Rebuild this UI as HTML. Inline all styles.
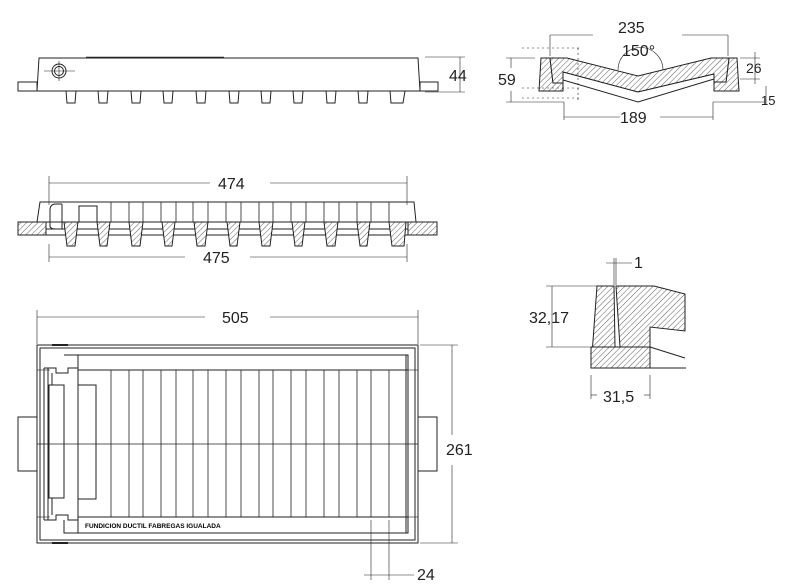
<!DOCTYPE html>
<html><head><meta charset="utf-8"><style>
html,body{margin:0;padding:0;background:#fff}
svg{display:block}
text{font-family:"Liberation Sans",sans-serif;fill:#222}
</style></head><body>
<svg width="792" height="586" viewBox="0 0 792 586" xmlns="http://www.w3.org/2000/svg">
<defs>
<pattern id="h" width="4" height="4" patternUnits="userSpaceOnUse" patternTransform="rotate(45)">
<rect width="4" height="4" fill="#fff"/><line x1="0" y1="0" x2="0" y2="4" stroke="#333" stroke-width="0.8"/>
</pattern>
</defs>
<g fill="none" stroke="#222" stroke-width="1">
<!-- top side view -->
<path d="M39,58 L418,58 L420,91 L37,91 Z" fill="#fff"/>
<rect x="18" y="82" width="19" height="9"/>
<rect x="420" y="82" width="18" height="9"/>
<circle cx="59" cy="71" r="7"/><circle cx="59" cy="71" r="4.5"/>
<line x1="44" y1="71" x2="75" y2="71" stroke-width="0.6"/><line x1="59" y1="61" x2="59" y2="81" stroke-width="0.6"/>
<line x1="86" y1="57.5" x2="224" y2="57.5" stroke-width="1.6"/>
<g>
<path d="M66,91 L67,103 L75,103 L76,91"/><path d="M98,91 L99,103 L107,103 L108,91"/>
<path d="M131,91 L132,103 L140,103 L141,91"/><path d="M163,91 L164,103 L172,103 L173,91"/>
<path d="M196,91 L197,103 L205,103 L206,91"/><path d="M229,91 L230,103 L238,103 L239,91"/>
<path d="M261,91 L262,103 L270,103 L271,91"/><path d="M293,91 L294,103 L302,103 L303,91"/>
<path d="M326,91 L327,103 L335,103 L336,91"/><path d="M358,91 L359,103 L367,103 L368,91"/>
<path d="M390,91 L391,103 L403,103 L405,91"/>
</g>
<line x1="425" y1="57" x2="465" y2="57" stroke-width="0.6"/><line x1="425" y1="92" x2="465" y2="92" stroke-width="0.6"/>
<line x1="460" y1="57" x2="460" y2="92" stroke-width="0.6"/>

<!-- section view -->
<path d="M40,202 L407,202 L414,202 L416,222 L437,222 L437,235 L18,235 L18,222 L37,222 Z" fill="#fff"/>
<rect x="18" y="222" width="28" height="13" fill="url(#h)"/>
<rect x="408" y="222" width="29" height="13" fill="url(#h)"/>
<line x1="46" y1="222" x2="408" y2="222"/><line x1="46" y1="229" x2="408" y2="229"/>
<path d="M62,204 L56,204 Q50,204 50,210 L50,226 Q50,229 56,229 L62,229 L62,204" />
<rect x="79" y="206" width="18" height="16"/>
<g fill="url(#h)">
<path d="M64,222 L78,222 L75,246 L67,246 Z"/>
<path d="M97,222 L110,222 L107,246 L100,246 Z"/>
<path d="M129,222 L143,222 L140,246 L132,246 Z"/>
<path d="M162,222 L175,222 L172,246 L165,246 Z"/>
<path d="M194,222 L208,222 L205,246 L197,246 Z"/>
<path d="M227,222 L240,222 L237,246 L230,246 Z"/>
<path d="M259,222 L273,222 L270,246 L262,246 Z"/>
<path d="M292,222 L305,222 L302,246 L295,246 Z"/>
<path d="M324,222 L338,222 L335,246 L327,246 Z"/>
<path d="M357,222 L370,222 L367,246 L360,246 Z"/>
<path d="M389,222 L406,222 L404,246 L392,246 Z"/>
</g>
<g stroke-width="0.8">
<line x1="111" y1="202" x2="111" y2="222"/><line x1="129" y1="202" x2="129" y2="222"/><line x1="143" y1="202" x2="143" y2="222"/>
<line x1="161" y1="202" x2="161" y2="222"/><line x1="176" y1="202" x2="176" y2="222"/><line x1="193" y1="202" x2="193" y2="222"/>
<line x1="208" y1="202" x2="208" y2="222"/><line x1="226" y1="202" x2="226" y2="222"/><line x1="241" y1="202" x2="241" y2="222"/>
<line x1="259" y1="202" x2="259" y2="222"/><line x1="273" y1="202" x2="273" y2="222"/><line x1="291" y1="202" x2="291" y2="222"/>
<line x1="306" y1="202" x2="306" y2="222"/><line x1="324" y1="202" x2="324" y2="222"/><line x1="339" y1="202" x2="339" y2="222"/>
<line x1="357" y1="202" x2="357" y2="222"/><line x1="371" y1="202" x2="371" y2="222"/><line x1="389" y1="202" x2="389" y2="222"/>
</g>
<g stroke-width="0.6">
<line x1="49" y1="183" x2="210" y2="183"/><line x1="270" y1="183" x2="407" y2="183"/>
<line x1="49" y1="176" x2="49" y2="205"/><line x1="407" y1="176" x2="407" y2="205"/>
<line x1="49" y1="257" x2="185" y2="257"/><line x1="250" y1="257" x2="407" y2="257"/>
<line x1="49" y1="244" x2="49" y2="262"/><line x1="407" y1="244" x2="407" y2="262"/>
<line x1="37" y1="317" x2="205" y2="317"/><line x1="270" y1="317" x2="418" y2="317"/>
<line x1="37" y1="310" x2="37" y2="344"/><line x1="418" y1="310" x2="418" y2="344"/>
</g>

<!-- plan view -->
<rect x="37" y="345" width="381" height="198"/>
<rect x="40" y="348" width="375" height="192"/>
<rect x="18" y="417" width="19" height="54"/>
<rect x="418" y="417" width="19" height="54"/>
<rect x="78" y="355" width="330" height="178"/>
<line x1="78" y1="370" x2="408" y2="370"/><line x1="78" y1="517" x2="408" y2="517"/>
<line x1="406" y1="355" x2="406" y2="533"/>
<line x1="408" y1="370" x2="418" y2="370" stroke-width="0.6"/><line x1="408" y1="517" x2="418" y2="517" stroke-width="0.6"/>
<line x1="37" y1="370" x2="50" y2="370" stroke-width="0.6"/><line x1="37" y1="517" x2="50" y2="517" stroke-width="0.6"/>
<g stroke-width="0.8">
<line x1="111" y1="370" x2="111" y2="517"/><line x1="129" y1="370" x2="129" y2="517"/><line x1="143" y1="370" x2="143" y2="517"/>
<line x1="161" y1="370" x2="161" y2="517"/><line x1="176" y1="370" x2="176" y2="517"/><line x1="193" y1="370" x2="193" y2="517"/>
<line x1="208" y1="370" x2="208" y2="517"/><line x1="226" y1="370" x2="226" y2="517"/><line x1="241" y1="370" x2="241" y2="517"/>
<line x1="259" y1="370" x2="259" y2="517"/><line x1="273" y1="370" x2="273" y2="517"/><line x1="291" y1="370" x2="291" y2="517"/>
<line x1="306" y1="370" x2="306" y2="517"/><line x1="324" y1="370" x2="324" y2="517"/><line x1="339" y1="370" x2="339" y2="517"/>
<line x1="357" y1="370" x2="357" y2="517"/><line x1="371" y1="370" x2="371" y2="517"/><line x1="389" y1="370" x2="389" y2="517"/>
<line x1="37" y1="444" x2="418" y2="444"/>
</g>
<rect x="49" y="385" width="15" height="113"/>
<rect x="78" y="385" width="18" height="114"/>
<path d="M64,355 L78,355 L78,368 L68,368 L68,373 L56,373 L56,368 L48,368 L48,520 L56,520 L56,515 L68,515 L68,520 L78,520 L78,533 L64,533 L64,520"/>
<line x1="48" y1="368" x2="44" y2="368"/><line x1="44" y1="368" x2="44" y2="520"/><line x1="44" y1="520" x2="48" y2="520"/>
<line x1="52" y1="373" x2="52" y2="385"/><line x1="52" y1="498" x2="52" y2="515"/>
<line x1="52" y1="345" x2="68" y2="345" stroke-width="2"/><line x1="52" y1="543" x2="68" y2="543" stroke-width="2"/>
<g stroke-width="0.6">
<line x1="420" y1="345" x2="458" y2="345"/><line x1="420" y1="543" x2="458" y2="543"/>
<line x1="452" y1="345" x2="452" y2="435"/><line x1="452" y1="465" x2="452" y2="543"/>
<line x1="371" y1="520" x2="371" y2="580"/><line x1="389" y1="520" x2="389" y2="580"/>
<line x1="364" y1="575" x2="414" y2="575"/>
</g>

<!-- right cross-section -->
<path d="M541,58 L550,58 L553,83 L563,83 L563,91 L539,91 Z" fill="url(#h)"/>
<path d="M729,58 L737,58 L739,91 L714,91 L714,82 L726,82 Z" fill="url(#h)"/>
<path d="M550,58 L567,58 L638,76 L711,58 L729,58 L726,82 L714,82 L714,74 L638,92 L563,72 L563,83 L553,83 Z" fill="url(#h)"/>
<path d="M563,72 L638,92 L714,74 L714,79 L638,102 L563,80 Z" fill="#fff"/>
<g stroke-width="0.6">
<path d="M618,70 A22,22 0 0 1 663,70"/>
<line x1="550" y1="35" x2="593" y2="35"/><line x1="682" y1="35" x2="728" y2="35"/>
<line x1="550" y1="35" x2="550" y2="56"/><line x1="728" y1="35" x2="728" y2="56"/>
<line x1="506" y1="58" x2="535" y2="58"/><line x1="506" y1="102" x2="564" y2="102"/>
<line x1="511" y1="58" x2="511" y2="68"/><line x1="511" y1="91" x2="511" y2="102"/>
<line x1="564" y1="102" x2="564" y2="120"/><line x1="713" y1="102" x2="713" y2="120"/>
<line x1="713" y1="102" x2="765" y2="102"/><line x1="740" y1="79" x2="760" y2="79"/><line x1="740" y1="58" x2="760" y2="58"/>
<line x1="755" y1="52" x2="755" y2="84"/><line x1="766" y1="86" x2="766" y2="105"/>
<line x1="564" y1="117" x2="620" y2="117"/><line x1="660" y1="117" x2="713" y2="117"/>
<path d="M522,48 L580,48 M522,88 L580,88 M522,98 L580,98 M578,48 L578,100" stroke-dasharray="2,3"/>
</g>

<!-- detail -->
<path d="M597,286 L614,286 L615,347 L591,347 L591,368 Z" fill="url(#h)"/>
<path d="M591,347 L650,347 L650,368 L591,368 Z" fill="url(#h)"/>
<path d="M616,286 L654,286 L685,294 L685,331 L650,327 L650,347 L620,347 Z" fill="url(#h)"/>
<line x1="650" y1="347" x2="685" y2="358"/>
<line x1="591" y1="368" x2="686" y2="368"/>
<g stroke-width="0.6">
<line x1="546" y1="286" x2="597" y2="286"/><line x1="546" y1="347" x2="591" y2="347"/>
<line x1="552" y1="286" x2="552" y2="347"/>
<line x1="591" y1="375" x2="591" y2="399"/><line x1="650" y1="375" x2="650" y2="399"/>
<line x1="591" y1="395" x2="597" y2="395"/><line x1="644" y1="395" x2="650" y2="395"/>
<line x1="614" y1="258" x2="614" y2="285"/><line x1="616" y1="258" x2="616" y2="285"/>
<line x1="606" y1="263" x2="632" y2="263"/>
</g>
</g>

<g font-size="16">
<text x="449" y="81">44</text>
<text x="218" y="189">474</text>
<text x="203" y="263">475</text>
<text x="222" y="323">505</text>
<text x="446" y="455">261</text>
<text x="417" y="580">24</text>
<text x="618" y="33">235</text>
<text x="622" y="56">150°</text>
<text x="498" y="85">59</text>
<text x="746" y="73" font-size="14">26</text>
<text x="761" y="105" font-size="13">15</text>
<text x="620" y="123">189</text>
<text x="634" y="268">1</text>
<text x="529" y="323">32,17</text>
<text x="603" y="402">31,5</text>
</g>
<text x="85" y="528" font-size="6.5" font-weight="bold" style="fill:#000">FUNDICION DUCTIL FABREGAS IGUALADA</text>
</svg>
</body></html>
